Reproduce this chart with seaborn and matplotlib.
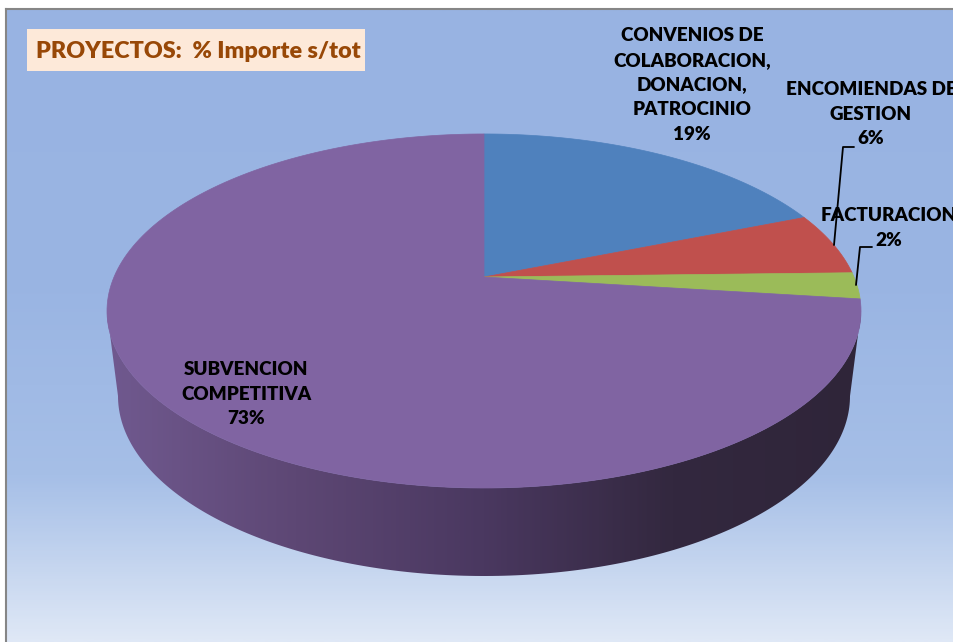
import numpy as np
import seaborn as sns
import matplotlib.pyplot as plt
from matplotlib.colors import LinearSegmentedColormap
from matplotlib.patches import Polygon, Rectangle

# Datos
categorias = ['CONVENIOS DE\nCOLABORACION,\nDONACION,\nPATROCINIO', 'ENCOMIENDAS DE\nGESTION', 'FACTURACION', 'SUBVENCION\nCOMPETITIVA']
valores = [18.9, 5.7, 2.4, 73.0]
colores = ['#4f81bd', '#c0504d', '#9bbb59', '#8064a2']
titulo = 'PROYECTOS:  % Importe s/tot'

sns.set_theme(style='white')
plt.rcParams['font.family'] = ['Lato', 'DejaVu Sans']

fig = plt.figure(figsize=(9.54, 6.42), dpi=100)
ax = fig.add_axes([0, 0, 1, 1])

# Tarta base: solo para sacar los angulos de cada sector
wedges, _ = ax.pie(valores, colors=colores, startangle=90, counterclock=False)
ax.set_aspect('auto')
ax.set_xlim(0, 954)
ax.set_ylim(642, 0)
ax.axis('off')

# Fondo degradado
fondo = LinearSegmentedColormap.from_list('fondo', [
    (0.0, '#98b3e2'), (0.45, '#9ab5e3'), (0.74, '#a6bfe7'), (1.0, '#dfe8f6')])
ax.imshow(np.linspace(0, 1, 300).reshape(-1, 1), cmap=fondo, extent=(6, 954, 642, 9),
          aspect='auto', zorder=0)
ax.plot([6, 6], [642, 9], color='#868686', lw=1.5, zorder=1, solid_capstyle='projecting')
ax.plot([6, 954], [9, 9], color='#868686', lw=1.5, zorder=1, solid_capstyle='projecting')


def proyectar(u, v):
    # perspectiva: el centro de la tarta queda por encima del centro de la elipse
    w = 1 + 0.192 * v
    return 484 + 370 * u / w, 277 - 170.5 * v / w


# Lateral de la tarta (degradado horizontal recortado)
t = np.linspace(np.pi, 2 * np.pi, 200)
xa = 484 + 377 * np.cos(t)
ya = 311 - 177 * np.sin(t)
xb = 484 + 366 * np.cos(t)
yb = 396 - 180 * np.sin(t)
contorno = np.vstack([np.column_stack([xa, ya]), np.column_stack([xb, yb])[::-1]])
lateral = LinearSegmentedColormap.from_list('lateral', [
    (0.0, '#70598f'), (0.25, '#5d4774'), (0.5, '#4a3860'), (0.75, '#33283f'), (1.0, '#2f2539')])
clip = Polygon(contorno, closed=True, transform=ax.transData, fc='none', ec='none')
ax.add_patch(clip)
im = ax.imshow(np.linspace(0, 1, 300).reshape(1, -1), cmap=lateral, extent=(107, 861, 600, 300),
               aspect='auto', zorder=2)
im.set_clip_path(clip)
ax.set_xlim(0, 954)
ax.set_ylim(642, 0)

# Cara superior: cada sector de ax.pie pasado por la perspectiva
for w, color in zip(wedges, colores):
    ang = np.radians(np.linspace(w.theta1, w.theta2, 200))
    px, py = proyectar(np.cos(ang), np.sin(ang))
    cx, cy = proyectar(0, 0)
    ax.fill(np.r_[cx, px], np.r_[cy, py], color=color, lw=0.5, zorder=3)
    w.remove()

# Etiquetas
estilo = dict(ha='center', va='center', fontsize=13.6, fontweight='heavy', color='black',
              linespacing=1.55, zorder=6)
etiquetas = [f'{c}\n{round(v)}%' for c, v in zip(categorias, valores)]
ax.text(692, 85, etiquetas[0], **estilo)
ax.text(871, 114, etiquetas[1], **estilo)
ax.text(889, 228, etiquetas[2], **estilo)
ax.text(246, 394, etiquetas[3], **estilo)

# Lineas guia
ax.plot([834, 843, 854], [245, 147, 147], color='black', lw=1.3, zorder=5)
ax.plot([856, 860, 872], [285, 247, 247], color='black', lw=1.3, zorder=5)

# Titulo
ax.add_patch(Rectangle((27, 29), 338, 42, fc='#fde9d9', ec='none', zorder=5))
ax.text(36, 52, titulo, ha='left', va='center', fontsize=16.8, fontweight='heavy',
        color='#984807', zorder=6)

plt.savefig('out.png', dpi=100)
